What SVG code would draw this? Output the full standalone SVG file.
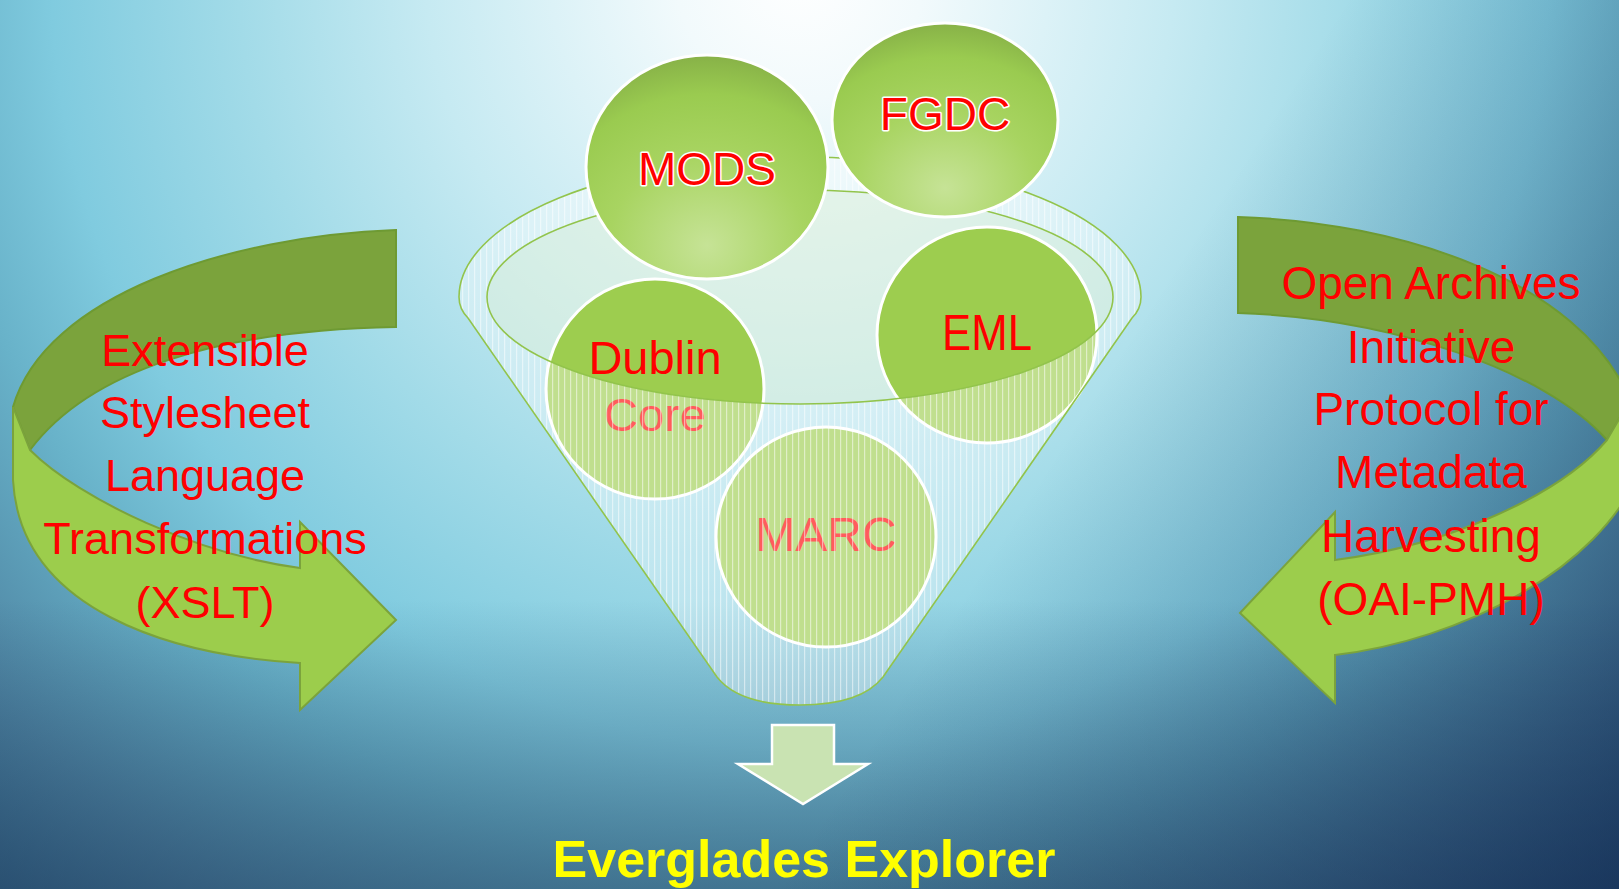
<svg xmlns="http://www.w3.org/2000/svg" width="1619" height="889" viewBox="0 0 1619 889">
<defs>
<radialGradient id="bgR" gradientUnits="userSpaceOnUse" cx="800" cy="-30" r="1200" gradientTransform="translate(800 -30) scale(1.04 1.08) translate(-800 30)">
<stop offset="0" stop-color="#ffffff"/>
<stop offset="0.1" stop-color="#f2fafc"/>
<stop offset="0.3" stop-color="#c6eaf2"/>
<stop offset="0.45" stop-color="#a2dbe8"/>
<stop offset="0.6" stop-color="#80cbdf"/>
<stop offset="0.7" stop-color="#68b2c9"/>
<stop offset="0.85" stop-color="#4e84a2"/>
<stop offset="1" stop-color="#2d5a7c"/>
</radialGradient>
<linearGradient id="bgL" gradientUnits="userSpaceOnUse" x1="700" y1="300" x2="1619" y2="889">
<stop offset="0" stop-color="#0b1f4a" stop-opacity="0"/>
<stop offset="0.35" stop-color="#0b1f4a" stop-opacity="0"/>
<stop offset="1" stop-color="#0b1f4a" stop-opacity="0.5"/>
</linearGradient>
<linearGradient id="bgV" gradientUnits="userSpaceOnUse" x1="0" y1="600" x2="0" y2="889">
<stop offset="0" stop-color="#1d3a5c" stop-opacity="0"/>
<stop offset="1" stop-color="#1d3a5c" stop-opacity="0.5"/>
</linearGradient>
<radialGradient id="ball" cx="0.5" cy="0.85" r="0.9">
<stop offset="0" stop-color="#c6e396"/>
<stop offset="0.45" stop-color="#a8d461"/>
<stop offset="0.75" stop-color="#9acb50"/>
<stop offset="1" stop-color="#82aa45"/>
</radialGradient>
<pattern id="hatch" width="6" height="6" patternUnits="userSpaceOnUse">
<rect width="6" height="6" fill="#ffffff" fill-opacity="0.36"/>
<rect x="0" width="1.2" height="6" fill="#ffffff" fill-opacity="0.5"/>
</pattern>
<style>
.dark{fill:#7ba33c;stroke:#6e9a33;stroke-width:2}
.light{fill:#9ccd4c;stroke:#7ba33c;stroke-width:2}
.ballg{fill:url(#ball);stroke:#ffffff;stroke-width:3}
.ballf{fill:#9dcd4f;stroke:#ffffff;stroke-width:3}
.lbl{font-family:"Liberation Sans",Arial,sans-serif;fill:#ff0000;text-anchor:middle}
.out{stroke:#ffffff;stroke-width:3;paint-order:stroke;stroke-linejoin:round}
.rim{fill:none;stroke:#92c44c;stroke-width:1.6}
</style>
</defs>
<rect width="1619" height="889" fill="url(#bgR)"/>
<rect width="1619" height="889" fill="url(#bgV)"/>
<rect width="1619" height="889" fill="url(#bgL)"/>

<g id="connectors">
<g id="xslt-arrow">
<path class="dark" d="M396,230 C230,236 45,295 13,407 L30,450 C90,370 220,330 396,327 Z"/>
<path class="light" d="M13,407 L30,450 C80,500 200,555 300,568 L300,522 L396,620 L300,710 L300,663 C170,655 20,610 13,480 Z"/>
</g>
<g id="oai-arrow">
<path class="dark" d="M1238,217 C1400,222 1580,280 1630,400 L1607,440 C1545,370 1390,318 1238,313 Z"/>
<path class="light" d="M1630,400 L1607,440 C1560,495 1450,545 1335,560 L1335,512 L1240,613 L1335,703 L1335,655 C1460,640 1600,570 1640,470 Z"/>
</g>
<path id="down-arrow" d="M772,725 L834,725 L834,764 L868,764 L803,804 L738,764 L772,764 Z" fill="#c9e3b2" stroke="#ffffff" stroke-width="2.5"/>
</g>

<g id="funnel-back">
<path d="M459,297 A341,140 0 0 1 1141,297 L1113,297 A313,107 0 0 0 487,297 Z" fill="url(#hatch)"/>
<ellipse cx="800" cy="297" rx="313" ry="107" fill="#e4f2dc" fill-opacity="0.55"/>
</g>

<g id="dublin-core">
<ellipse class="ballf" cx="655" cy="389" rx="109" ry="110"/>
<text class="lbl" x="655" y="374" font-size="47">Dublin</text>
<text class="lbl" x="655" y="431" font-size="47">Core</text>
</g>
<g id="eml">
<ellipse class="ballf" cx="987" cy="335" rx="110" ry="108"/>
<text class="lbl" x="987" y="350" font-size="50" textLength="90" lengthAdjust="spacingAndGlyphs">EML</text>
</g>
<g id="marc">
<ellipse class="ballf" cx="826" cy="537" rx="110" ry="110"/>
<text class="lbl" x="826" y="551" font-size="48">MARC</text>
</g>

<g id="funnel-front">
<path d="M459,297 C459,305 462,312 468,318 L717,677 C735,700 770,705 800,705 C830,705 865,700 883,677 L1132,318 C1138,312 1141,305 1141,297 L1113,297 A313,107 0 0 1 487,297 Z" fill="url(#hatch)"/>
<path class="rim" d="M468,318 C462,312 459,305 459,297 A341,140 0 0 1 1141,297 C1141,305 1138,312 1132,318 L883,677 C865,700 830,705 800,705 C770,705 735,700 717,677 Z"/>
<ellipse class="rim" cx="800" cy="297" rx="313" ry="107" stroke-width="2"/>
</g>

<g id="mods">
<ellipse class="ballg" cx="707" cy="167" rx="121" ry="112"/>
<text class="lbl out" x="707" y="185" font-size="46">MODS</text>
</g>
<g id="fgdc">
<ellipse class="ballg" cx="945" cy="120" rx="113" ry="97"/>
<text class="lbl out" x="945" y="130" font-size="46">FGDC</text>
</g>

<g id="xslt-label">
<text class="lbl" font-size="45"><tspan x="205" y="366">Extensible</tspan><tspan x="205" y="428">Stylesheet</tspan><tspan x="205" y="491">Language</tspan><tspan x="205" y="554">Transformations</tspan><tspan x="205" y="618">(XSLT)</tspan></text>
</g>
<g id="oai-label">
<text class="lbl" font-size="46"><tspan x="1431" y="299">Open Archives</tspan><tspan x="1431" y="363">Initiative</tspan><tspan x="1431" y="425">Protocol for</tspan><tspan x="1431" y="488">Metadata</tspan><tspan x="1431" y="552">Harvesting</tspan><tspan x="1431" y="615">(OAI-PMH)</tspan></text>
</g>
<g id="everglades-explorer">
<text x="804" y="877" font-family="'Liberation Sans',Arial,sans-serif" font-weight="bold" font-size="52" fill="#ffff00" text-anchor="middle">Everglades Explorer</text>
</g>
</svg>
